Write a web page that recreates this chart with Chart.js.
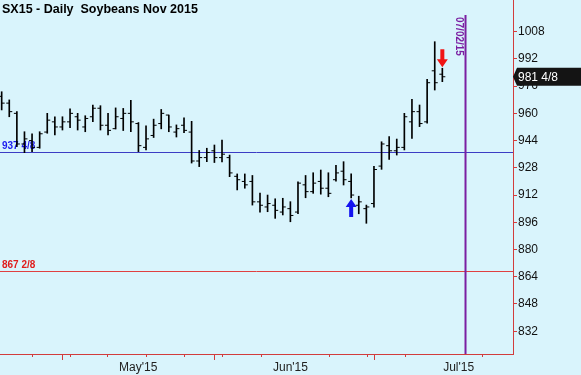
<!DOCTYPE html>
<html>
<head>
<meta charset="utf-8">
<script src="https://cdn.jsdelivr.net/npm/chart.js"></script>
<style>
  html, body { margin: 0; padding: 0; background: #d9f4fc; }
  #wrap { width: 581px; height: 375px; }
</style>
</head>
<body>
<div id="wrap"><canvas id="chart" width="581" height="375"></canvas></div>
<script>
// daily OHLC, one entry per session (index = bar number)
const opens  = [970, 966, 960, 942, 944, 940, 949, 955, 952, 955,
                958, 952, 958, 963, 953, 951, 957, 960, 954, 940,
                947, 954, 959, 949, 953, 949, 932, 934, 938, 934,
                934, 923, 920, 920, 908, 905, 906, 902, 904, 902,
                918, 914, 920, 916, 921, 926, 920, 906, 904, 907,
                929, 941, 938, 940, 955, 961, 955, 985, 983]
const highs  = [972.7, 967.9, 961, 949.2, 947.9, 949.2, 960, 958, 958, 962.6,
                960, 958.6, 964.9, 964.5, 960, 963.2, 962.9, 967.7, 954.6, 952.7,
                956.6, 962.3, 959, 953.2, 957.3, 955.3, 938.2, 939.5, 941.4, 944.3,
                935.5, 924.4, 924.4, 923.5, 913.2, 912, 909.8, 910.1, 908.1, 919.8,
                923.5, 925.1, 926.7, 925.1, 929.4, 931.6, 924.5, 911.3, 906.1, 928.9,
                943.3, 946.3, 944.9, 960, 968.3, 964.9, 980, 1002.1, 986.5]
const lows   = [962, 958, 940.4, 936.9, 937.5, 939.5, 948.3, 947.3, 950.2, 951.6,
                950.2, 949.2, 955.1, 950.2, 947.3, 950.8, 949.9, 949.2, 937.5, 938.5,
                945.8, 950.9, 949.2, 946.1, 948.7, 930.8, 928.7, 931.6, 931.1, 931.4,
                922.8, 915, 916, 906.1, 901.9, 902.2, 898.3, 900.3, 896.3, 901,
                910.4, 913, 912.5, 911, 920.1, 917.9, 910.3, 901, 895.4, 904.9,
                927.1, 933, 935.5, 938.5, 945.3, 952.2, 954.2, 973.7, 978.6]
const closes = [966, 961, 942, 945, 940, 948, 956, 952, 955, 960,
                956, 957, 963, 953, 950, 958, 960, 955, 941, 945,
                953, 960, 952, 951, 950, 932, 934, 937, 934, 936,
                925, 921, 918, 908, 906, 907, 903, 905, 900, 919,
                914, 919, 916, 913, 925, 921, 912, 908, 905, 927,
                942, 938, 940, 958, 961, 954, 978, 978, 981.5]

// axis ticks (x positions in bar-index units)
const monthTicks = [17.97, 38.01, 60.15]
const monthLabels = ["May'15", "Jun'15", "Jul'15"]
const weekTicks = [3.93, 8.95, 13.9, 18.94, 24.0, 29.0, 34.07, 43.03, 48.06, 53.1, 63.2]
const priceTicks = [832, 848, 864, 880, 896, 912, 928, 944, 960, 976, 992, 1008]

// annotations
const levelValues = [937.5, 867.25]
const levelLabels = ["937 4/8", "867 2/8"]
const lastPrice = 981.5
const lastPriceLabel = "981 4/8"
const markerDate = 61.05
const markerTop = 1017.8
const markerLabel = "07/02/15"
const upArrow = { index: 46, value: 910.3 }
const downArrow = { index: 58, value: 986.5 }
const title = "SX15 - Daily  Soybeans Nov 2015"

const AXIS_RED = "#d23c3c"
const BG = "#d9f4fc"

function drawArrow(ctx, x, tipY, dir, color) {
  // dir = -1 points up, 1 points down
  const head = 8, len = 18
  ctx.fillStyle = color
  ctx.beginPath()
  ctx.moveTo(x, tipY)
  ctx.lineTo(x + 5.5, tipY - dir * head)
  ctx.lineTo(x + 2, tipY - dir * head)
  ctx.lineTo(x + 2, tipY - dir * len)
  ctx.lineTo(x - 2, tipY - dir * len)
  ctx.lineTo(x - 2, tipY - dir * head)
  ctx.lineTo(x - 5.5, tipY - dir * head)
  ctx.closePath()
  ctx.fill()
}

// no label overhang padding, chart area runs to the canvas edges
function noPadding(s) {
  s.paddingTop = 0
  s.paddingBottom = 0
  s.paddingLeft = 0
  s.paddingRight = 0
}

const chartDecor = {
  id: "chartDecor",
  beforeDraw(chart) {
    const ctx = chart.ctx
    ctx.save()
    ctx.fillStyle = BG
    ctx.fillRect(0, 0, chart.width, chart.height)
    ctx.restore()
  },
  beforeDatasetsDraw(chart) {
    const { ctx, chartArea, scales: { x, y } } = chart
    ctx.save()
    // horizontal levels
    const colors = ["#3c3cc4", "#e04040"]
    const textColors = ["#1c1cf0", "#e01c1c"]
    levelValues.forEach((v, i) => {
      const py = Math.round(y.getPixelForValue(v)) + 0.5
      ctx.strokeStyle = colors[i]
      ctx.lineWidth = 1
      ctx.beginPath()
      ctx.moveTo(chartArea.left, py)
      ctx.lineTo(chartArea.right, py)
      ctx.stroke()
      ctx.fillStyle = textColors[i]
      ctx.font = "bold 10px 'Liberation Sans', Arial, sans-serif"
      ctx.textBaseline = "bottom"
      ctx.fillText(levelLabels[i], 2, py - 1)
    })
    // vertical date marker
    const mx = x.getPixelForValue(markerDate)
    ctx.strokeStyle = "#7b1fa2"
    ctx.lineWidth = 2
    ctx.beginPath()
    ctx.moveTo(mx, y.getPixelForValue(markerTop))
    ctx.lineTo(mx, chartArea.bottom)
    ctx.stroke()
    ctx.save()
    ctx.translate(mx - 10, y.getPixelForValue(markerTop) + 2)
    ctx.rotate(Math.PI / 2)
    ctx.fillStyle = "#7b1fa2"
    ctx.font = "bold 10px 'Liberation Sans', Arial, sans-serif"
    ctx.textBaseline = "alphabetic"
    ctx.fillText(markerLabel, 0, 0)
    ctx.restore()
    // title
    ctx.fillStyle = "#000"
    ctx.font = "bold 12.5px 'Liberation Sans', Arial, sans-serif"
    ctx.textBaseline = "alphabetic"
    ctx.fillText(title, 2, 13)
    ctx.restore()
  },
  afterDatasetsDraw(chart) {
    const { ctx, scales: { x, y } } = chart
    ctx.save()
    // open / close ticks
    ctx.strokeStyle = "#000"
    ctx.lineWidth = 1
    ctx.beginPath()
    opens.forEach((o, i) => {
      const px = x.getPixelForValue(i)
      const po = y.getPixelForValue(o)
      const pc = y.getPixelForValue(closes[i])
      ctx.moveTo(px - 3, po)
      ctx.lineTo(px, po)
      ctx.moveTo(px, pc)
      ctx.lineTo(px + 3, pc)
    })
    ctx.stroke()
    drawArrow(ctx, x.getPixelForValue(upArrow.index), y.getPixelForValue(upArrow.value) + 1, -1, "#1414f0")
    drawArrow(ctx, x.getPixelForValue(downArrow.index), y.getPixelForValue(downArrow.value) - 1, 1, "#f01414")
    ctx.restore()
  },
  afterDraw(chart) {
    const { ctx, chartArea, scales: { x, y } } = chart
    ctx.save()
    // short weekly ticks on the date axis
    ctx.strokeStyle = AXIS_RED
    ctx.lineWidth = 1
    ctx.beginPath()
    weekTicks.forEach(v => {
      const px = Math.round(x.getPixelForValue(v)) + 0.5
      ctx.moveTo(px, chartArea.bottom)
      ctx.lineTo(px, chartArea.bottom + 3)
    })
    ctx.stroke()
    // last price tag
    const py = y.getPixelForValue(lastPrice)
    ctx.fillStyle = "#141414"
    ctx.beginPath()
    ctx.moveTo(chartArea.right, py)
    ctx.lineTo(chartArea.right + 4, py - 9)
    ctx.lineTo(chart.width, py - 9)
    ctx.lineTo(chart.width, py + 9)
    ctx.lineTo(chartArea.right + 4, py + 9)
    ctx.closePath()
    ctx.fill()
    ctx.fillStyle = "#fff"
    ctx.font = "12px 'Liberation Sans', Arial, sans-serif"
    ctx.textBaseline = "middle"
    ctx.fillText(lastPriceLabel, chartArea.right + 5, py + 0.5)
    ctx.restore()
  }
}

const ctx = document.getElementById("chart").getContext("2d")

new Chart(ctx, {
  type: "bar",
  data: {
    datasets: [{
      data: highs.map((h, i) => ({ x: i, y: [lows[i], h] })),
      backgroundColor: "#000",
      borderWidth: 0,
      barThickness: 1
    }]
  },
  options: {
    responsive: false,
    animation: false,
    layout: { padding: 0 },
    plugins: {
      legend: { display: false },
      tooltip: { enabled: false }
    },
    scales: {
      x: {
        type: "linear",
        min: -0.22,
        max: 67.3,
        offset: false,
        grid: { drawOnChartArea: false, color: AXIS_RED, tickLength: 6 },
        border: { color: AXIS_RED },
        afterBuildTicks: s => { s.ticks = monthTicks.map(v => ({ value: v })) },
        afterFit: s => { s.height = 21; noPadding(s) },
        ticks: {
          autoSkip: false,
          maxRotation: 0,
          padding: 0,
          color: "#222",
          font: { family: "'Liberation Sans', Arial, sans-serif", size: 12 },
          callback: (v, i) => monthLabels[i]
        }
      },
      y: {
        position: "right",
        min: 818.6,
        max: 1026.6,
        grid: { drawOnChartArea: false, color: AXIS_RED, tickLength: 4 },
        border: { color: AXIS_RED },
        afterBuildTicks: s => { s.ticks = priceTicks.map(v => ({ value: v })) },
        afterFit: s => { s.width = 68; noPadding(s) },
        ticks: {
          padding: 1,
          color: "#111",
          font: { family: "'Liberation Sans', Arial, sans-serif", size: 12 },
          callback: v => String(v)
        }
      }
    }
  },
  plugins: [chartDecor]
})
</script>
</body>
</html>
